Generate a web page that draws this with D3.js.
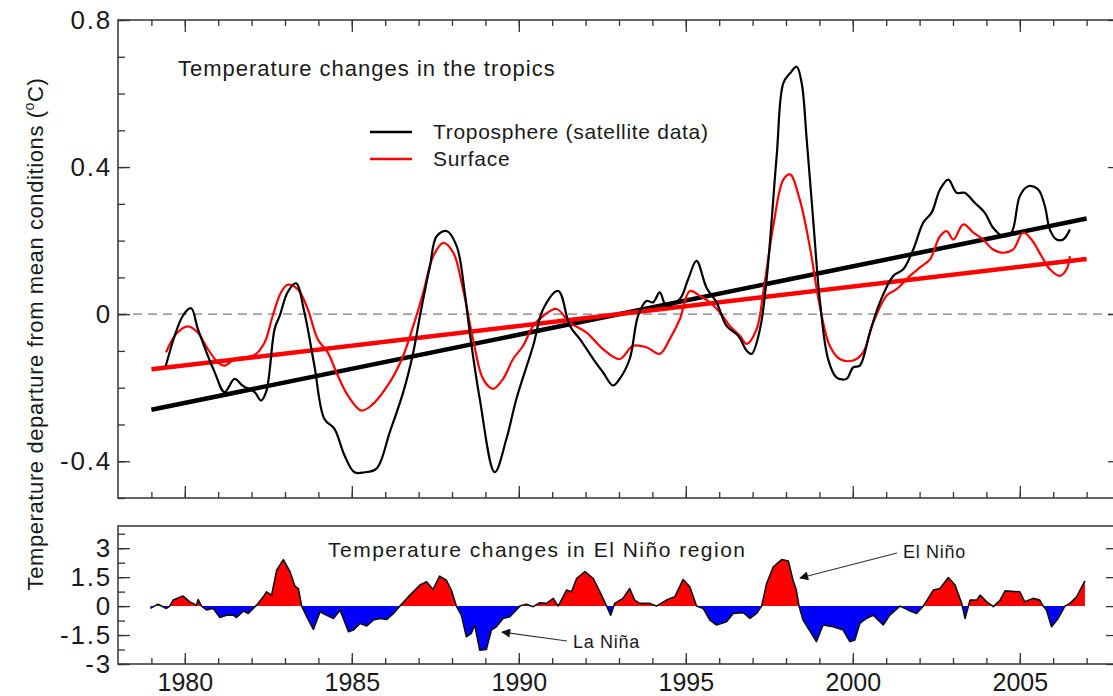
<!DOCTYPE html>
<html>
<head>
<meta charset="utf-8">
<script src="https://cdn.jsdelivr.net/npm/d3@7"></script>
<style>
  body { margin: 0; background: #fff; }
  svg text { font-family: "Liberation Sans", Arial, Helvetica, sans-serif; fill: #1a1a1a; }
  .frame { fill: none; stroke: #333; stroke-width: 1.5; }
  .axis path { display: none; }
  .axis line { stroke: #333; stroke-width: 1.3; }
  .axis text { font-size: 25px; }
  .y-axis text { font-size: 26px; letter-spacing: 1.8px; }
</style>
</head>
<body>
<svg id="chart"></svg>
<script>
// Tropical troposphere (satellite) anomaly, deg C
const tropoYears = [1979.43, 1979.94, 1980.19, 1980.39, 1980.89, 1981.19, 1981.49, 1981.74, 1982.09, 1982.28,
  1982.44, 1982.69, 1982.84, 1983.08, 1983.33, 1983.58, 1983.88, 1984.18, 1984.48, 1984.78,
  1985.08, 1985.38, 1985.74, 1986.14, 1986.54, 1986.84, 1987.04, 1987.34, 1987.54, 1987.84,
  1988.14, 1988.38, 1988.53, 1988.83, 1989.28, 1989.63, 1989.93, 1990.43, 1990.73, 1991.18,
  1991.53, 1991.83, 1992.23, 1992.52, 1992.82, 1993.02, 1993.32, 1993.57, 1993.82, 1994.02,
  1994.22, 1994.42, 1994.82, 1995.07, 1995.32, 1995.62, 1995.92, 1996.22, 1996.57, 1996.82,
  1996.97, 1997.22, 1997.42, 1997.72, 1997.92, 1998.12, 1998.32, 1998.47, 1998.62, 1998.82,
  1999.01, 1999.26, 1999.51, 1999.81, 2000.01, 2000.21, 2000.51, 2000.81, 2001.21, 2001.51,
  2001.81, 2002.11, 2002.36, 2002.61, 2002.86, 2003.11, 2003.35, 2003.65, 2003.95, 2004.2,
  2004.5, 2004.75, 2005.0, 2005.25, 2005.55, 2005.75, 2005.9, 2006.1, 2006.3, 2006.5];
const tropoValues = [-0.141, -0.005, 0.016, -0.04, -0.157, -0.212, -0.176, -0.195, -0.212, -0.235,
  -0.21, -0.04, -0.005, 0.06, 0.084, 0.005, -0.14, -0.285, -0.312, -0.384,
  -0.43, -0.43, -0.42, -0.32, -0.212, -0.104, -0.005, 0.131, 0.212, 0.226,
  0.185, 0.06, -0.049, -0.23, -0.43, -0.339, -0.23, -0.086, 0.014, 0.063,
  -0.032, -0.068, -0.122, -0.158, -0.194, -0.176, -0.122, -0.005, 0.036, 0.032,
  0.059, 0.023, 0.041, 0.095, 0.145, 0.072, 0.032, -0.032, -0.059, -0.099,
  -0.108, -0.041, 0.095, 0.429, 0.628, 0.655, 0.673, 0.628, 0.475, 0.249,
  0.041, -0.122, -0.172, -0.176, -0.145, -0.14, -0.05, 0.032, 0.104, 0.122,
  0.176, 0.249, 0.276, 0.339, 0.366, 0.33, 0.33, 0.303, 0.276, 0.235,
  0.212, 0.222, 0.321, 0.348, 0.339, 0.294, 0.23, 0.203, 0.203, 0.23];

// Tropical surface anomaly, deg C
const surfaceYears = [1979.44, 1979.74, 1980.09, 1980.39, 1980.69, 1980.99, 1981.19, 1981.49, 1981.79, 1982.09,
  1982.39, 1982.63, 1982.88, 1983.08, 1983.38, 1983.68, 1983.98, 1984.28, 1984.58, 1984.88,
  1985.28, 1985.58, 1986.14, 1986.54, 1986.84, 1987.14, 1987.44, 1987.74, 1988.04, 1988.33,
  1988.63, 1988.93, 1989.23, 1989.53, 1989.83, 1990.13, 1990.43, 1990.73, 1991.13, 1991.53,
  1992.03, 1992.52, 1993.02, 1993.42, 1993.82, 1994.22, 1994.52, 1994.82, 1995.12, 1995.42,
  1995.72, 1996.02, 1996.32, 1996.62, 1996.82, 1997.12, 1997.32, 1997.62, 1997.92, 1998.12,
  1998.41, 1998.71, 1999.01, 1999.31, 1999.61, 2000.01, 2000.31, 2000.61, 2001.01, 2001.31,
  2001.71, 2002.01, 2002.31, 2002.61, 2002.81, 2003.01, 2003.31, 2003.61, 2003.9, 2004.2,
  2004.5, 2004.8, 2005.1, 2005.35, 2005.65, 2005.9, 2006.2, 2006.4, 2006.5];
const surfaceValues = [-0.104, -0.054, -0.033, -0.05, -0.095, -0.131, -0.14, -0.122, -0.117, -0.111,
  -0.077, -0.005, 0.059, 0.08, 0.068, 0.014, -0.068, -0.104, -0.167, -0.221,
  -0.262, -0.249, -0.185, -0.113, -0.032, 0.059, 0.158, 0.194, 0.167, 0.068,
  -0.068, -0.176, -0.203, -0.176, -0.122, -0.086, -0.032, -0.005, 0.014, -0.023,
  -0.05, -0.095, -0.122, -0.086, -0.09, -0.108, -0.068, -0.014, 0.063, 0.05,
  0.032, 0.005, -0.032, -0.059, -0.081, -0.041, 0.059, 0.24, 0.366, 0.38,
  0.312, 0.185, 0.023, -0.086, -0.122, -0.126, -0.104, -0.023, 0.05, 0.068,
  0.104, 0.127, 0.149, 0.212, 0.226, 0.203, 0.244, 0.222, 0.203, 0.176,
  0.167, 0.176, 0.222, 0.203, 0.158, 0.122, 0.104, 0.122, 0.158];

// Linear trends (start / end of fit)
const trendYears = [1979, 2007];
const tropoTrend = [-0.26, 0.26];
const surfaceTrend = [-0.15, 0.15];

// El Nino region temperature index
const ninoYears = [1978.97, 1979.2, 1979.45, 1979.55, 1979.65, 1979.95, 1980.15, 1980.35, 1980.4, 1980.5,
  1980.65, 1980.85, 1981.05, 1981.25, 1981.45, 1981.55, 1981.75, 1981.9, 1982.05, 1982.15,
  1982.35, 1982.45, 1982.6, 1982.75, 1982.95, 1983.15, 1983.3, 1983.4, 1983.5, 1983.65,
  1983.85, 1984.05, 1984.25, 1984.45, 1984.65, 1984.9, 1985.05, 1985.25, 1985.45, 1985.65,
  1985.85, 1986.05, 1986.25, 1986.44, 1986.74, 1987.04, 1987.24, 1987.43, 1987.63, 1987.83,
  1987.98, 1988.13, 1988.28, 1988.43, 1988.58, 1988.68, 1988.83, 1989.03, 1989.18, 1989.33,
  1989.53, 1989.73, 1989.88, 1990.03, 1990.23, 1990.43, 1990.63, 1990.83, 1991.03, 1991.18,
  1991.43, 1991.58, 1991.73, 1991.98, 1992.23, 1992.43, 1992.63, 1992.75, 1992.87, 1993.12,
  1993.32, 1993.47, 1993.62, 1993.92, 1994.12, 1994.42, 1994.67, 1994.92, 1995.12, 1995.32,
  1995.52, 1995.72, 1995.92, 1996.22, 1996.42, 1996.72, 1996.92, 1997.12, 1997.27, 1997.42,
  1997.62, 1997.87, 1998.07, 1998.21, 1998.31, 1998.39, 1998.51, 1998.76, 1998.91, 1999.11,
  1999.41, 1999.71, 1999.91, 2000.06, 2000.21, 2000.41, 2000.61, 2000.91, 2001.11, 2001.41,
  2001.66, 2001.91, 2002.11, 2002.41, 2002.61, 2002.86, 2003.06, 2003.26, 2003.36, 2003.51,
  2003.71, 2003.81, 2004.01, 2004.21, 2004.41, 2004.56, 2005.0, 2005.15, 2005.4, 2005.6,
  2005.7, 2005.8, 2005.95, 2006.15, 2006.35, 2006.5, 2006.7, 2006.95];
const ninoValues = [-0.12, 0.1, -0.12, 0, 0.31, 0.52, 0.22, 0.05, 0.34, 0,
  -0.2, -0.12, -0.59, -0.47, -0.47, -0.59, -0.26, -0.38, -0.12, 0.05,
  0.48, 0.74, 0.57, 1.86, 2.41, 1.78, 1.03, 0.91, 0, -0.55,
  -1.21, -0.29, -0.47, -0.64, -0.21, -1.33, -1.24, -0.9, -1.03, -0.72,
  -0.64, -0.69, -0.38, 0, 0.57, 1.09, 1.26, 0.86, 1.55, 1.34,
  0.83, 0, -0.47, -1.59, -1.41, -0.98, -2.28, -2.24, -1.24, -1.07,
  -0.64, -0.55, -0.29, 0, 0.1, -0.03, 0.17, 0.14, 0.4, 0,
  0.83, 0.74, 1.43, 1.78, 1.43, 0.74, 0, -0.47, 0.14, 0.4,
  0.91, 0.31, 0.14, 0.14, 0, 0.31, 0.48, 1.38, 1.0, 0,
  -0.12, -0.72, -0.98, -0.81, -0.38, -0.34, -0.64, -0.38, 0, 1.17,
  2.03, 2.41, 2.34, 1.34, 0.83, 0, -0.72, -1.41, -1.84, -0.98,
  -1.07, -1.24, -1.84, -1.76, -0.9, -0.64, -0.47, -0.98, -0.47, 0,
  -0.21, -0.38, 0, 0.83, 0.91, 1.48, 1.09, 0.14, -0.64, 0.31,
  0.31, 0.57, 0.22, -0.03, 0.31, 0.79, 0.74, 0.22, 0.4, 0.31,
  0, -0.21, -1.07, -0.64, 0, 0.14, 0.48, 1.31];

// Tick labels
const yearTicks = [1980, 1985, 1990, 1995, 2000, 2005];
const topTicks = [-0.4, 0, 0.4, 0.8];
const bottomTicks = [-3, -1.5, 0, 1.5, 3];
const legendLabels = ['Troposphere (satellite data)', 'Surface'];
const seriesColors = ['#000000', '#ff0000'];


class TropicsChart {

    constructor(_config) {
        this.config = {
            parentElement: _config.parentElement,
            containerWidth: 1113,
            containerHeight: 696,
            left: 118,
            right: 1120,
            top: { y0: 20, y1: 498 },
            bottom: { y0: 526, y1: 664 }
        }
        this.initVis();
    }

    initVis() {
        let vis = this;
        const c = vis.config;

        vis.svg = d3.select(c.parentElement)
            .attr('width', c.containerWidth)
            .attr('height', c.containerHeight);

        vis.xScale = d3.scaleLinear().domain([1978, 2008]).range([c.left, c.right]);
        vis.yTop = d3.scaleLinear().domain([-0.5, 0.8]).range([c.top.y1, c.top.y0]);
        vis.yBot = d3.scaleLinear().domain([-3, 4.15]).range([c.bottom.y1, c.bottom.y0]);

        const defs = vis.svg.append('defs');
        defs.append('marker')
            .attr('id', 'arrow')
            .attr('viewBox', '0 -5 10 10')
            .attr('refX', 9).attr('refY', 0)
            .attr('markerWidth', 11).attr('markerHeight', 9)
            .attr('markerUnits', 'userSpaceOnUse')
            .attr('orient', 'auto')
            .append('path')
            .attr('d', 'M0,-5L10,0L0,5Z')
            .attr('fill', '#111');

        // clips for the warm/cold fill
        defs.append('clipPath').attr('id', 'clip-warm')
            .append('rect')
            .attr('x', c.left).attr('y', c.bottom.y0)
            .attr('width', c.right - c.left)
            .attr('height', vis.yBot(0) - c.bottom.y0);
        defs.append('clipPath').attr('id', 'clip-cold')
            .append('rect')
            .attr('x', c.left).attr('y', vis.yBot(0))
            .attr('width', c.right - c.left)
            .attr('height', c.bottom.y1 - vis.yBot(0));

        vis.renderVis();
    }

    renderVis() {
        let vis = this;
        const c = vis.config;
        const x = vis.xScale;
        const minorYears = d3.range(1979, 2008);
        const hyphen = d => d3.format('')(d).replace('\u2212', '-');

        // ---------- upper panel ----------
        const top = vis.svg.append('g');

        top.append('line')
            .attr('x1', c.left).attr('x2', c.right)
            .attr('y1', vis.yTop(0)).attr('y2', vis.yTop(0))
            .attr('stroke', '#a0a0a0').attr('stroke-width', 1.6)
            .attr('stroke-dasharray', '9,6');

        const line = d3.line().x(d => x(d[0])).y(d => vis.yTop(d[1]));

        top.append('path')
            .datum(d3.zip(trendYears, tropoTrend))
            .attr('fill', 'none').attr('stroke', seriesColors[0]).attr('stroke-width', 4.5)
            .attr('d', line);
        top.append('path')
            .datum(d3.zip(trendYears, surfaceTrend))
            .attr('fill', 'none').attr('stroke', seriesColors[1]).attr('stroke-width', 4.5)
            .attr('d', line);

        top.append('path')
            .datum(d3.zip(surfaceYears, surfaceValues))
            .attr('fill', 'none').attr('stroke', seriesColors[1]).attr('stroke-width', 2.2)
            .attr('stroke-linejoin', 'round')
            .attr('d', line.curve(d3.curveCatmullRom.alpha(0.5)));
        top.append('path')
            .datum(d3.zip(tropoYears, tropoValues))
            .attr('fill', 'none').attr('stroke', seriesColors[0]).attr('stroke-width', 2.2)
            .attr('stroke-linejoin', 'round')
            .attr('d', line.curve(d3.curveCatmullRom.alpha(0.5)));

        top.append('rect').attr('class', 'frame')
            .attr('x', c.left).attr('y', c.top.y0)
            .attr('width', c.right - c.left).attr('height', c.top.y1 - c.top.y0);

        // y axis, ticks pointing inward
        top.append('g').attr('class', 'axis y-axis')
            .attr('transform', `translate(${c.left},0)`)
            .call(d3.axisLeft(vis.yTop).tickValues(topTicks).tickSize(-12).tickPadding(6).tickFormat(hyphen));
        top.append('g').attr('class', 'axis')
            .attr('transform', `translate(${c.left},0)`)
            .call(d3.axisLeft(vis.yTop).tickValues(d3.range(-5, 9).map(d => d / 10)).tickSize(-7).tickFormat(''));
        top.append('g').attr('class', 'axis')
            .attr('transform', `translate(${c.right},0)`)
            .call(d3.axisRight(vis.yTop).tickValues(topTicks).tickSize(-12).tickFormat(''));

        [[c.top.y0, d3.axisTop], [c.top.y1, d3.axisBottom]].forEach(([yPos, axis]) => {
            top.append('g').attr('class', 'axis')
                .attr('transform', `translate(0,${yPos})`)
                .call(axis(x).tickValues(yearTicks).tickSize(-12).tickFormat(''));
            top.append('g').attr('class', 'axis')
                .attr('transform', `translate(0,${yPos})`)
                .call(axis(x).tickValues(minorYears).tickSize(-6).tickFormat(''));
        });

        top.append('text')
            .attr('x', 178).attr('y', 76)
            .attr('font-size', 22).attr('letter-spacing', 1.0)
            .text('Temperature changes in the tropics');

        const legend = top.append('g').attr('transform', 'translate(370,132)');
        const items = legend.selectAll('.legend-item')
            .data(legendLabels)
            .enter().append('g')
            .attr('class', 'legend-item')
            .attr('transform', (d, i) => `translate(0,${i * 27})`);
        items.append('line')
            .attr('x1', 0).attr('x2', 42)
            .attr('stroke', (d, i) => seriesColors[i]).attr('stroke-width', 2.5);
        items.append('text')
            .attr('x', 63).attr('y', 7)
            .attr('font-size', 21).attr('letter-spacing', 0.7)
            .text(d => d);

        // ---------- lower panel ----------
        const bot = vis.svg.append('g');
        const area = d3.area()
            .x(d => x(d[0]))
            .y0(vis.yBot(0))
            .y1(d => vis.yBot(d[1]));
        const nino = d3.zip(ninoYears, ninoValues);

        bot.append('path').datum(nino)
            .attr('clip-path', 'url(#clip-warm)')
            .attr('fill', '#ff0000').attr('d', area);
        bot.append('path').datum(nino)
            .attr('clip-path', 'url(#clip-cold)')
            .attr('fill', '#0000ff').attr('d', area);
        bot.append('path').datum(nino)
            .attr('fill', 'none').attr('stroke', '#111').attr('stroke-width', 1.6)
            .attr('stroke-linejoin', 'round')
            .attr('d', d3.line().x(d => x(d[0])).y(d => vis.yBot(d[1])));

        bot.append('rect').attr('class', 'frame')
            .attr('x', c.left).attr('y', c.bottom.y0)
            .attr('width', c.right - c.left).attr('height', c.bottom.y1 - c.bottom.y0);

        bot.append('g').attr('class', 'axis y-axis')
            .attr('transform', `translate(${c.left},0)`)
            .call(d3.axisLeft(vis.yBot).tickValues(bottomTicks).tickSize(-12).tickPadding(6).tickFormat(hyphen));
        bot.append('g').attr('class', 'axis')
            .attr('transform', `translate(${c.left},0)`)
            .call(d3.axisLeft(vis.yBot).tickValues(d3.range(-4, 6).map(d => d * 0.75)).tickSize(-7).tickFormat(''));
        bot.append('g').attr('class', 'axis')
            .attr('transform', `translate(${c.right},0)`)
            .call(d3.axisRight(vis.yBot).tickValues(bottomTicks).tickSize(-14).tickFormat(''));

        bot.append('g').attr('class', 'axis x-axis')
            .attr('transform', `translate(0,${c.bottom.y1})`)
            .call(d3.axisBottom(x).tickValues(yearTicks).tickSize(-11).tickPadding(9).tickFormat(d3.format('d')))
            .call(g => g.selectAll('text').attr('font-size', 24));
        bot.append('g').attr('class', 'axis')
            .attr('transform', `translate(0,${c.bottom.y1})`)
            .call(d3.axisBottom(x).tickValues(minorYears).tickSize(-6).tickFormat(''));

        bot.append('text')
            .attr('x', 328).attr('y', 557)
            .attr('font-size', 21).attr('letter-spacing', 1.5)
            .text('Temperature changes in El Niño region');

        // annotations
        bot.append('line')
            .attr('x1', 897).attr('y1', 553).attr('x2', 800).attr('y2', 578)
            .attr('stroke', '#333').attr('stroke-width', 1.2)
            .attr('marker-end', 'url(#arrow)');
        bot.append('text')
            .attr('x', 903).attr('y', 558)
            .attr('font-size', 18).attr('letter-spacing', 0.7)
            .text('El Niño');

        bot.append('line')
            .attr('x1', 567).attr('y1', 641).attr('x2', 502).attr('y2', 632)
            .attr('stroke', '#333').attr('stroke-width', 1.2)
            .attr('marker-end', 'url(#arrow)');
        bot.append('text')
            .attr('x', 573).attr('y', 648)
            .attr('font-size', 18).attr('letter-spacing', 0.7)
            .text('La Niña');

        // shared y label
        const ylab = vis.svg.append('text')
            .attr('transform', 'translate(43,334) rotate(-90)')
            .attr('text-anchor', 'middle')
            .attr('font-size', 22).attr('letter-spacing', 0.6);
        ylab.append('tspan').text('Temperature departure from mean conditions (');
        ylab.append('tspan').attr('font-size', 14).attr('dy', -9).text('o');
        ylab.append('tspan').attr('dy', 9).text('C)');
    }
}

new TropicsChart({ parentElement: '#chart' });
</script>
</body>
</html>
